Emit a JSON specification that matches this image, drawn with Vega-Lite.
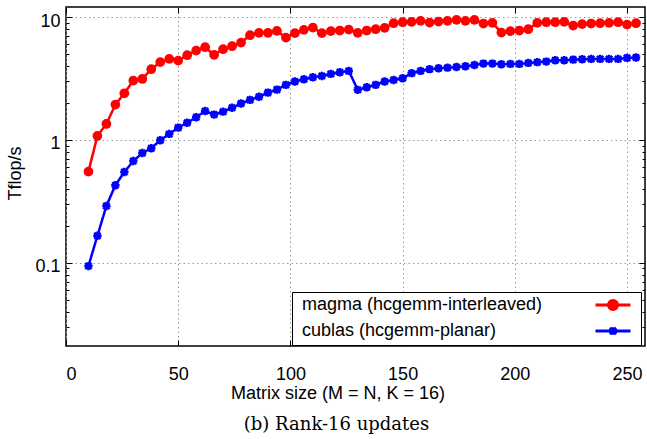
{
  "$schema": "https://vega.github.io/schema/vega-lite/v6.json",
  "width": 579,
  "height": 339,
  "autosize": {"type": "none"},
  "padding": {"left": 66, "top": 7, "right": 2, "bottom": 93},
  "background": "white",
  "config": {
    "view": {"stroke": "black", "strokeWidth": 1.5},
    "font": "Liberation Sans"
  },
  "title": {
    "text": "(b) Rank-16 updates",
    "orient": "bottom",
    "font": "DejaVu Serif",
    "fontSize": 18,
    "fontWeight": "normal",
    "color": "black",
    "offset": 14,
    "dx": -19
  },
  "data": {
    "values": [
      {"n": 10, "magma": 0.552, "cublas": 0.094},
      {"n": 14, "magma": 1.08, "cublas": 0.166},
      {"n": 18, "magma": 1.35, "cublas": 0.29},
      {"n": 22, "magma": 1.94, "cublas": 0.428},
      {"n": 26, "magma": 2.4, "cublas": 0.548},
      {"n": 30, "magma": 3.04, "cublas": 0.674},
      {"n": 34, "magma": 3.14, "cublas": 0.784},
      {"n": 38, "magma": 3.77, "cublas": 0.856},
      {"n": 42, "magma": 4.3, "cublas": 0.995},
      {"n": 46, "magma": 4.57, "cublas": 1.12},
      {"n": 50, "magma": 4.43, "cublas": 1.26},
      {"n": 54, "magma": 4.9, "cublas": 1.38},
      {"n": 58, "magma": 5.34, "cublas": 1.53},
      {"n": 62, "magma": 5.69, "cublas": 1.72},
      {"n": 66, "magma": 4.93, "cublas": 1.61},
      {"n": 70, "magma": 5.48, "cublas": 1.7},
      {"n": 74, "magma": 5.8, "cublas": 1.83},
      {"n": 78, "magma": 6.21, "cublas": 1.98},
      {"n": 82, "magma": 7.13, "cublas": 2.12},
      {"n": 86, "magma": 7.45, "cublas": 2.25},
      {"n": 90, "magma": 7.45, "cublas": 2.43},
      {"n": 94, "magma": 7.73, "cublas": 2.57},
      {"n": 98, "magma": 6.82, "cublas": 2.81},
      {"n": 102, "magma": 7.41, "cublas": 2.99},
      {"n": 106, "magma": 7.88, "cublas": 3.12},
      {"n": 110, "magma": 8.22, "cublas": 3.24},
      {"n": 114, "magma": 7.41, "cublas": 3.32},
      {"n": 118, "magma": 7.69, "cublas": 3.45},
      {"n": 122, "magma": 7.78, "cublas": 3.56},
      {"n": 126, "magma": 7.92, "cublas": 3.65},
      {"n": 130, "magma": 7.45, "cublas": 2.56},
      {"n": 134, "magma": 7.78, "cublas": 2.69},
      {"n": 138, "magma": 7.98, "cublas": 2.81},
      {"n": 142, "magma": 8.18, "cublas": 2.99},
      {"n": 146, "magma": 8.93, "cublas": 3.08},
      {"n": 150, "magma": 9.1, "cublas": 3.18},
      {"n": 154, "magma": 9.16, "cublas": 3.5},
      {"n": 158, "magma": 9.33, "cublas": 3.65},
      {"n": 162, "magma": 9.03, "cublas": 3.77},
      {"n": 166, "magma": 9.21, "cublas": 3.84},
      {"n": 170, "magma": 9.33, "cublas": 3.88},
      {"n": 174, "magma": 9.51, "cublas": 3.93},
      {"n": 178, "magma": 9.33, "cublas": 3.98},
      {"n": 182, "magma": 9.51, "cublas": 4.08},
      {"n": 186, "magma": 8.87, "cublas": 4.19},
      {"n": 190, "magma": 8.99, "cublas": 4.19},
      {"n": 194, "magma": 7.49, "cublas": 4.14},
      {"n": 198, "magma": 7.69, "cublas": 4.16},
      {"n": 202, "magma": 7.78, "cublas": 4.16},
      {"n": 206, "magma": 7.98, "cublas": 4.24},
      {"n": 210, "magma": 8.99, "cublas": 4.3},
      {"n": 214, "magma": 9.1, "cublas": 4.35},
      {"n": 218, "magma": 9.1, "cublas": 4.46},
      {"n": 222, "magma": 9.16, "cublas": 4.46},
      {"n": 226, "magma": 8.54, "cublas": 4.51},
      {"n": 230, "magma": 8.78, "cublas": 4.54},
      {"n": 234, "magma": 8.87, "cublas": 4.57},
      {"n": 238, "magma": 8.93, "cublas": 4.57},
      {"n": 242, "magma": 8.99, "cublas": 4.57},
      {"n": 246, "magma": 9.1, "cublas": 4.57},
      {"n": 250, "magma": 8.7, "cublas": 4.66},
      {"n": 254, "magma": 8.93, "cublas": 4.69}
    ]
  },
  "transform": [{"fold": ["magma", "cublas"], "as": ["series", "tflops"]}],
  "resolve": {"axis": {"x": "independent", "y": "independent"}},
  "layer": [
    {
      "mark": {"type": "line", "strokeWidth": 2.5},
      "encoding": {
        "x": {
          "field": "n",
          "type": "quantitative",
          "scale": {"domain": [0, 258], "nice": false, "zero": false},
          "axis": {
            "orient": "bottom",
            "values": [0, 50, 100, 150, 200, 250],
            "domain": false,
            "grid": true,
            "gridDash": [1.5, 3],
            "gridColor": "#999999",
            "gridWidth": 1,
            "tickSize": -6,
            "tickColor": "black",
            "tickWidth": 1,
            "labelFontSize": 18,
            "labelColor": "black",
            "labelPadding": 25,
            "title": "Matrix size (M = N, K = 16)",
            "titleFontSize": 18,
            "titleFontWeight": "normal",
            "titleColor": "black",
            "titleX": 271.5,
            "titleY": 52,
            "titleBaseline": "alphabetic"
          }
        },
        "y": {
          "field": "tflops",
          "type": "quantitative",
          "scale": {"type": "log", "domain": [0.021, 12.1], "nice": false},
          "axis": {
            "orient": "left",
            "values": [0.03, 0.04, 0.05, 0.06, 0.07, 0.08, 0.09, 0.1, 0.2, 0.3, 0.4, 0.5, 0.6, 0.7, 0.8, 0.9, 1, 2, 3, 4, 5, 6, 7, 8, 9, 10],
            "domain": false,
            "grid": true,
            "gridDash": [1.5, 3],
            "gridColor": "#999999",
            "gridWidth": 1,
            "gridOpacity": {"condition": {"test": "datum.value == 0.1 || datum.value == 1 || datum.value == 10", "value": 1}, "value": 0},
            "tickSize": {"condition": {"test": "datum.value == 0.1 || datum.value == 1 || datum.value == 10", "value": -6}, "value": -3},
            "tickColor": "black",
            "tickWidth": 1,
            "labelExpr": "datum.value == 10 ? '10' : datum.value == 1 ? '1' : datum.value == 0.1 ? '0.1' : ''",
            "labelFontSize": 18,
            "labelColor": "black",
            "labelPadding": 12,
            "labelOffset": 4,
            "title": "Tflop/s",
            "titleFontSize": 18,
            "titleFontWeight": "normal",
            "titleColor": "black",
            "titleX": -51,
            "titleY": 166,
            "titleAngle": -90,
            "titleBaseline": "middle",
            "titleAlign": "center"
          }
        },
        "color": {
          "field": "series",
          "type": "nominal",
          "scale": {"domain": ["magma", "cublas"], "range": ["#ff0000", "#0000ff"]},
          "legend": {
            "orient": "none",
            "legendX": 226,
            "legendY": 285,
            "title": null,
            "strokeColor": "black",
            "fillColor": "white",
            "padding": 4,
            "rowPadding": 5,
            "labelFontSize": 18,
            "labelColor": "black",
            "labelLimit": 400,
            "labelExpr": "datum.value == 'magma' ? 'magma (hcgemm-interleaved)' : 'cublas (hcgemm-planar)'",
            "symbolSize": 196,
            "symbolStrokeWidth": 3,
            "symbolOffset": 308,
            "labelOffset": -320,
            "encode": {
              "symbols": {
                "update": {
                  "shape": {"signal": "datum.value == 'magma' ? 'M-2.5,0H2.5M-0.65,0A0.65,0.65,0,1,1,0.65,0A0.65,0.65,0,1,1,-0.65,0Z' : 'M-2.5,0H2.5M-0.45,-0.45L0.45,0.45M-0.45,0.45L0.45,-0.45M0,-0.55V0.55'"},
                  "fill": {"signal": "datum.value == 'magma' ? '#ff0000' : '#0000ff'"},
                  "stroke": {"signal": "datum.value == 'magma' ? '#ff0000' : '#0000ff'"},
                  "strokeWidth": {"value": 3},
                  "opacity": {"value": 1}
                }
              }
            }
          }
        }
      }
    },
    {
      "transform": [{"filter": "datum.series == 'magma'"}],
      "mark": {"type": "point", "shape": "circle", "filled": true, "size": 95, "opacity": 1, "color": "#ff0000"},
      "encoding": {
        "x": {
          "field": "n",
          "type": "quantitative",
          "axis": {
            "orient": "top",
            "values": [0, 50, 100, 150, 200, 250],
            "domain": false,
            "grid": false,
            "labels": false,
            "tickSize": -6,
            "tickColor": "black",
            "title": null
          }
        },
        "y": {
          "field": "tflops",
          "type": "quantitative",
          "axis": {
            "orient": "right",
            "values": [0.03, 0.04, 0.05, 0.06, 0.07, 0.08, 0.09, 0.1, 0.2, 0.3, 0.4, 0.5, 0.6, 0.7, 0.8, 0.9, 1, 2, 3, 4, 5, 6, 7, 8, 9, 10],
            "domain": false,
            "grid": false,
            "labels": false,
            "tickSize": {"condition": {"test": "datum.value == 0.1 || datum.value == 1 || datum.value == 10", "value": -6}, "value": -3},
            "tickColor": "black",
            "title": null
          }
        }
      }
    },
    {
      "transform": [{"filter": "datum.series == 'cublas'"}],
      "mark": {"type": "point", "shape": "M-1,0H1M0,-1V1M-0.75,-0.75L0.75,0.75M-0.75,0.75L0.75,-0.75", "filled": false, "size": 70, "strokeWidth": 2.5, "opacity": 1, "color": "#0000ff"},
      "encoding": {
        "x": {"field": "n", "type": "quantitative", "axis": null},
        "y": {"field": "tflops", "type": "quantitative", "axis": null}
      }
    }
  ]
}
